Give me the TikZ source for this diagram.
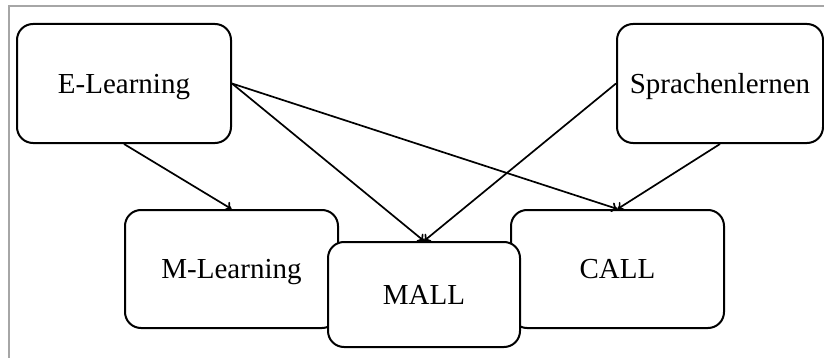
\documentclass[tikz,border=0pt]{standalone}
\usepackage{fontspec}
\setmainfont{Liberation Serif}
\usetikzlibrary{arrows.meta}

\tikzset{
  box/.style={draw=black,line width=1pt,fill=white,rounded corners=8pt,
    inner sep=0pt,text depth=0pt,font=\fontsize{14.5}{17}\selectfont},
  link/.style={line width=0.85pt,-{To[length=3pt,width=5pt]}}
}

\begin{document}
\begin{tikzpicture}[x=0.5pt,y=-0.5pt]
\useasboundingbox (0,0) rectangle (824,358);

% frame
\draw[color=black!35,line width=1pt] (9,358) -- (9,6) -- (824,6);

\node[box,minimum width=107pt,minimum height=59.5pt] (elearn) at (124,83.5) {E-Learning};
\node[box,minimum width=103pt,minimum height=59.5pt] (sprach) at (720,83.5) {Sprachenlernen};
\node[box,minimum width=106.5pt,minimum height=59pt] (mlearn) at (231.5,269) {M-Learning};
\node[box,minimum width=106.5pt,minimum height=59pt] (call) at (617.5,269) {CALL};
\node[box,minimum width=96pt,minimum height=52.5pt] (mall) at (424,294.5) {MALL};

    \draw[link] (elearn.south) -- (mlearn.north);
    \draw[link] (elearn.east) -- (mall.north);
    \draw[link] (elearn.east) -- (call.north);
    \draw[link] (sprach.west) -- (mall.north);
    \draw[link] (sprach.south) -- (call.north);
\end{tikzpicture}
\end{document}
